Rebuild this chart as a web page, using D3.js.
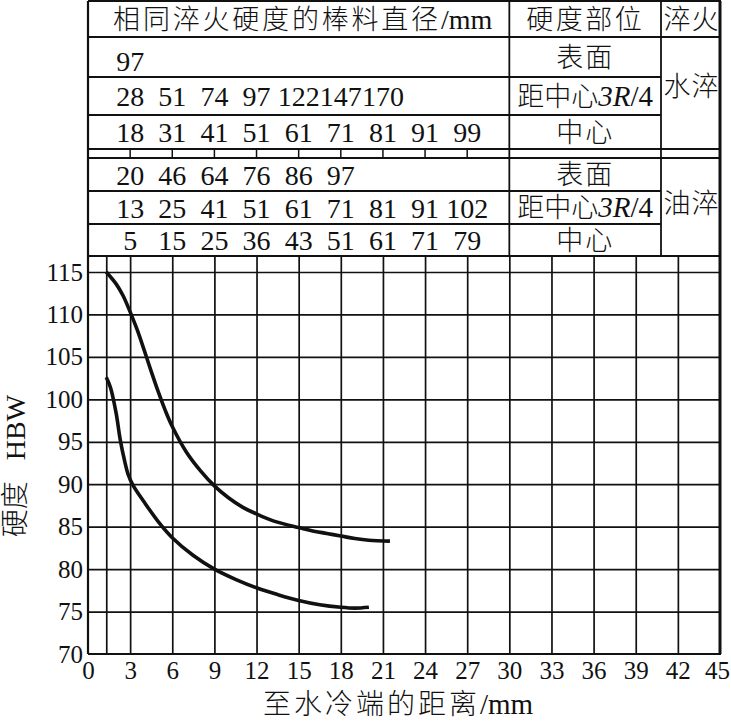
<!DOCTYPE html>
<html>
<head>
<meta charset="utf-8">
<script src="https://cdn.jsdelivr.net/npm/d3@7"></script>
<style>
  body { margin: 0; background: #fff; }
  text { font-family: "Liberation Serif", "Times New Roman", "Noto Sans CJK SC", serif; fill: #111; }
</style>
</head>
<body>
<div id="chart"></div>
<script>
// curves: distance from quenched end (mm) -> hardness HBW
var upperDist = [1.3, 2, 2.5, 3, 3.5, 4, 4.5, 5, 5.5, 6, 7, 8, 9, 10, 11, 12, 13, 14, 15, 16, 17, 18, 19, 20, 21.5];
var upperHBW  = [115, 113.6, 112.2, 110.3, 108.2, 105.8, 103.3, 100.9, 98.7, 96.8, 93.8, 91.6, 89.8, 88.4, 87.3, 86.5, 85.8, 85.3, 84.9, 84.5, 84.2, 83.9, 83.6, 83.4, 83.3];
var lowerDist = [1.3, 1.6, 2, 2.3, 2.6, 2.85, 3.2, 4, 5, 6, 7.5, 9, 10.5, 12, 13.5, 15, 16.5, 18, 19, 20];
var lowerHBW  = [102.6, 101.4, 98.4, 95.2, 92.8, 91.2, 89.9, 87.9, 85.6, 83.7, 81.6, 80, 78.8, 77.8, 77, 76.3, 75.8, 75.5, 75.4, 75.5];

var xTicks = [0, 3, 6, 9, 12, 15, 18, 21, 24, 27, 30, 33, 36, 39, 42, 45];
var xGrid = [1.3, 3, 6, 9, 12, 15, 18, 21, 24, 27, 30, 33, 36, 39, 42];
var yTicks = [70, 75, 80, 85, 90, 95, 100, 105, 110, 115];

// table: bar diameters with the same hardness, one per column at 3,6,9... mm
var colDist = [3, 6, 9, 12, 15, 18, 21, 24, 27];
var waterSurface = [97];
var water34 = [28, 51, 74, 97, 122, 147, 170];
var waterCenter = [18, 31, 41, 51, 61, 71, 81, 91, 99];
var oilSurface = [20, 46, 64, 76, 86, 97];
var oil34 = [13, 25, 41, 51, 61, 71, 81, 91, 102];
var oilCenter = [5, 15, 25, 36, 43, 51, 61, 71, 79];

var W = 731, H = 721;
var left = 88, right = 720, bottom = 654, plotTop = 256;
var rows = [1, 37, 77, 115, 149, 158, 191, 224, 256];
var div2 = 661;
var serif = "'Liberation Serif', 'Times New Roman', serif";

var svg = d3.select("#chart").append("svg")
  .attr("width", W).attr("height", H);
svg.append("rect").attr("width", W).attr("height", H).attr("fill", "#fff");

var x = d3.scaleLinear().domain([0, 45]).range([left, right]);
var y = d3.scaleLinear().domain([70, 115]).range([bottom, 272]);
var div1 = x(30);

// grid
var gx = svg.append("g")
  .attr("transform", "translate(0," + bottom + ")")
  .call(d3.axisBottom(x).tickValues(xGrid).tickSize(-(bottom - plotTop)).tickFormat(""));
gx.select(".domain").remove();
gx.selectAll("line").attr("stroke", "#111").attr("stroke-width", 1.7);

var gy = svg.append("g")
  .attr("transform", "translate(" + left + ",0)")
  .call(d3.axisLeft(y).tickValues(yTicks.slice(1)).tickSize(-(right - left)).tickFormat(""));
gy.select(".domain").remove();
gy.selectAll("line").attr("stroke", "#111").attr("stroke-width", 1.7);

// tick labels
var ax = svg.append("g")
  .attr("transform", "translate(0," + bottom + ")")
  .call(d3.axisBottom(x).tickValues(xTicks).tickSize(0).tickPadding(7));
ax.select(".domain").remove();
ax.selectAll("text").attr("font-size", 25).attr("font-family", serif).attr("fill", "#111")
  .attr("dx", function(d) { return d === 45 ? -3 : 0; });

var ay = svg.append("g")
  .attr("transform", "translate(" + left + ",0)")
  .call(d3.axisLeft(y).tickValues(yTicks).tickSize(0).tickPadding(5));
ay.select(".domain").remove();
ay.selectAll("text").attr("font-size", 25).attr("font-family", serif).attr("fill", "#111");

// table lines
function hline(y0, x0, x1, w) {
  svg.append("line").attr("x1", x0).attr("x2", x1).attr("y1", y0).attr("y2", y0)
    .attr("stroke", "#111").attr("stroke-width", w || 1.8);
}
function vline(x0, y0, y1, w) {
  svg.append("line").attr("x1", x0).attr("x2", x0).attr("y1", y0).attr("y2", y1)
    .attr("stroke", "#111").attr("stroke-width", w || 1.8);
}
hline(rows[0], left, right + 1);
hline(rows[1], left, right + 1);
hline(rows[2], left, div2);
hline(rows[3], left, div2);
hline(rows[4], left, right + 1);
hline(rows[5], left, right + 1);
hline(rows[6], left, div2);
hline(rows[7], left, div2);
hline(rows[8], left, right + 1, 2.2);
hline(bottom, left, right + 1, 2.2);
vline(left, rows[0], bottom, 2.2);
vline(right, rows[0], bottom, 3);
vline(div1, rows[0], rows[8]);
vline(div2, rows[0], rows[8]);
colDist.forEach(function(d) { vline(x(d), rows[4], rows[5], 1.5); });

// table text
function rowNums(vals, yc) {
  svg.append("g").selectAll("text").data(vals).enter().append("text")
    .attr("x", function(d, i) { return x(colDist[i]); })
    .attr("y", yc + 10)
    .attr("text-anchor", "middle")
    .attr("font-family", serif)
    .attr("font-size", 28)
    .text(function(d) { return d; });
}
function mid(i) { return (rows[i] + rows[i + 1]) / 2; }
rowNums(waterSurface, mid(1) + 4);
rowNums(water34, mid(2));
rowNums(waterCenter, mid(3));
rowNums(oilSurface, mid(5));
rowNums(oil34, mid(6));
rowNums(oilCenter, mid(7));

function cjk(txt, cx, yc, size, ls, unit) {
  var t = svg.append("text").attr("x", cx).attr("y", yc + size * 0.36)
    .attr("text-anchor", "middle").attr("font-size", size)
    .attr("font-weight", 300);
  t.append("tspan").attr("letter-spacing", ls || 0).text(txt);
  if (unit) t.append("tspan").attr("font-family", serif).attr("font-size", size + 1).text(unit);
  return t;
}
cjk("相同淬火硬度的棒料直径", (left + div1) / 2 + 4, mid(0), 27, 2.8, "/mm");
cjk("硬度部位", (div1 + div2) / 2, mid(0), 27, 2.5);
cjk("淬火", (div2 + right) / 2 + 1, mid(0), 27, 1);
var pos = (div1 + div2) / 2;
cjk("表面", pos, mid(1), 27, 2);
cjk("中心", pos, mid(3), 27, 2);
cjk("表面", pos, mid(5), 27, 2);
cjk("中心", pos, mid(7), 27, 2);
[mid(2), mid(6)].forEach(function(yc) {
  var t = cjk("距中心", pos, yc, 27, 0);
  t.append("tspan").attr("font-family", serif).attr("font-style", "italic").attr("font-size", 29).text("3R");
  t.append("tspan").attr("font-family", serif).attr("font-size", 29).text("/4");
});
cjk("水淬", (div2 + right) / 2 + 1, (rows[1] + rows[4]) / 2 - 7, 27, 1);
cjk("油淬", (div2 + right) / 2 + 1, (rows[5] + rows[8]) / 2 - 4, 27, 1);

// axis titles
cjk("至水冷端的距离", (left + right) / 2 - 6, 704, 28, 3, "/mm");
svg.append("text")
  .attr("transform", "translate(25,466) rotate(-90)")
  .attr("text-anchor", "middle")
  .attr("font-size", 28)
  .attr("font-weight", 300)
  .attr("xml:space", "preserve")
  .text("硬度   HBW");

// curves
var line = d3.line()
  .x(function(d) { return x(d[0]); })
  .y(function(d) { return y(d[1]); })
  .curve(d3.curveCatmullRom);
[[upperDist, upperHBW], [lowerDist, lowerHBW]].forEach(function(s) {
  svg.append("path")
    .datum(d3.zip(s[0], s[1]))
    .attr("d", line)
    .attr("fill", "none")
    .attr("stroke", "#111")
    .attr("stroke-width", 3.6);
});
</script>
</body>
</html>
